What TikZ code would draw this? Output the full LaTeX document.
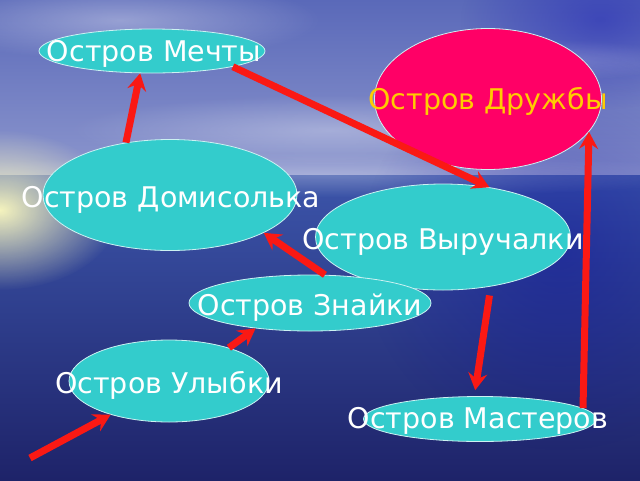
\documentclass[tikz,border=0pt]{standalone}
\usepackage{fontspec}
\setmainfont{DejaVu Sans}
\usetikzlibrary{shapes.geometric,arrows.meta,fadings}
\definecolor{isl}{RGB}{51,204,204}
\definecolor{pinkisl}{RGB}{255,0,102}
\definecolor{arr}{RGB}{250,25,20}
\definecolor{txtY}{RGB}{255,204,0}
\definecolor{skyTop}{RGB}{90,105,185}
\definecolor{skyLow}{RGB}{140,150,205}
\definecolor{seaTop}{RGB}{60,85,170}
\definecolor{seaBot}{RGB}{30,35,105}
\tikzfading[name=softglow, inner color=transparent!0, outer color=transparent!100]
\begin{document}
\begin{tikzpicture}[x=1pt,y=-1pt,
  island/.style={ellipse, draw=white!75!isl, line width=0.8pt, fill=isl, inner sep=0pt},
  lbl/.style={text=white, font=\fontsize{28.5}{32}\selectfont, inner sep=0pt, anchor=base},
  arrowline/.style={draw=arr, line width=7pt, -{Stealth[length=17pt,width=19pt,inset=6pt]}}]
% background
\useasboundingbox (0,0) rectangle (640,480);
\shade[top color=skyTop, bottom color=skyLow] (0,0) rectangle (640,175);
\shade[top color=seaTop, bottom color=seaBot] (0,175) rectangle (640,480);
\fill[white, opacity=0.35, path fading=softglow] (120,20) ellipse (200 and 40);
\fill[white, opacity=0.3, path fading=softglow] (330,130) ellipse (260 and 35);
\fill[white, opacity=0.25, path fading=softglow] (560,60) ellipse (120 and 20);
\fill[white, opacity=0.25, path fading=softglow] (320,175) ellipse (400 and 22);
\fill[blue!70!black, opacity=0.35, path fading=softglow] (600,20) ellipse (140 and 90);
\fill[blue!60!black, opacity=0.35, path fading=softglow] (560,250) ellipse (200 and 200);
\fill[yellow!25!white, opacity=0.95, path fading=softglow] (0,210) ellipse (120 and 80);
% islands
\node[island, minimum width=226, minimum height=44] (mech) at (152,51) {};
\node[island, fill=pinkisl, minimum width=227, minimum height=141] (dr) at (488,99) {};
\node[island, minimum width=254, minimum height=111] (dom) at (170,195) {};
\node[island, minimum width=255, minimum height=106] (vyr) at (443,237) {};
\node[island, minimum width=242, minimum height=56] (zn) at (310,303) {};
\node[island, minimum width=200, minimum height=82] (ul) at (169,381) {};
\node[island, minimum width=233, minimum height=45] (mas) at (480,419) {};
% labels
\node[lbl] (tmech) at (154,61) {Остров Мечты};
\node[lbl, text=txtY] (tdr) at (488,109) {Остров Дружбы};
\node[lbl] (tdom) at (171,207) {Остров Домисолька};
\node[lbl] (tvyr) at (443,249) {Остров Выручалки};
\node[lbl] (tzn) at (310,315) {Остров Знайки};
\node[lbl] (tul) at (169,393) {Остров Улыбки};
\node[lbl] (tmas) at (478,428) {Остров Мастеров};
% arrows
\coordinate (s5) at (30,458);
\draw[arrowline] (dom.130) -- (mech.242);
\draw[arrowline] (mech.-11) -- (vyr.47);
\draw[arrowline] (zn.62) -- (dom.-22);
\draw[arrowline] (ul.29) -- (zn.205);
\draw[arrowline] (s5) -- (ul.210);
\draw[arrowline, shorten <=9pt, shorten >=6pt] (vyr.-46) -- (mas.104);
\draw[arrowline] (mas.6) -- (dr.-18);
\end{tikzpicture}
\end{document}
